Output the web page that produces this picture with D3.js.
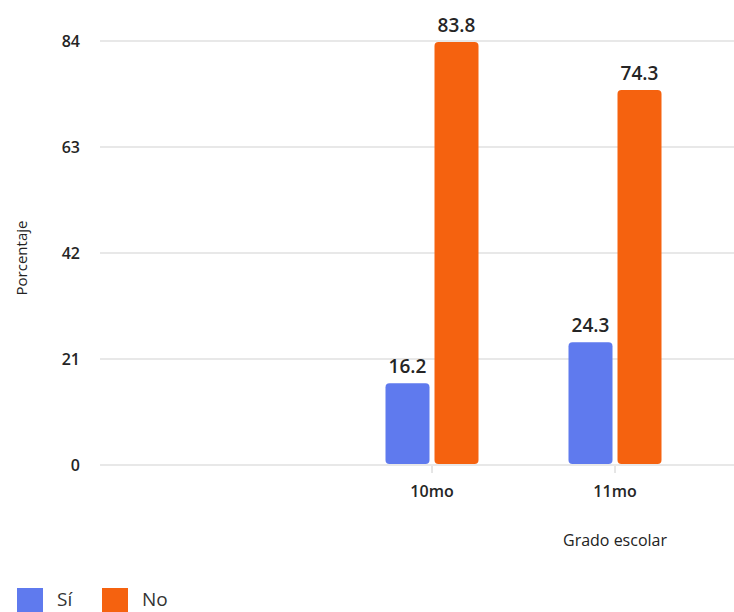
<!DOCTYPE html>
<html>
<head>
<meta charset="utf-8">
<script src="https://cdn.jsdelivr.net/npm/d3@7"></script>
<style>
  html, body { margin: 0; padding: 0; background: #fff; }
  svg { display: block; font-family: "Open Sans", "Noto Sans", sans-serif; }
</style>
</head>
<body>
<svg id="chart" width="734" height="612"></svg>
<script>
const categories = ["10mo", "11mo"];
const seriesNames = ["Sí", "No"];
const siValues = [16.2, 24.3];
const noValues = [83.8, 74.3];
const yTicks = [0, 21, 42, 63, 84];
const colors = ["#5F7AEE", "#F5620F"];
const xTitle = "Grado escolar";
const yTitle = "Porcentaje";

const svg = d3.select("#chart");
const y = d3.scaleLinear().domain([0, 84]).range([465, 41]);
const x = d3.scaleBand().domain(categories).range([340.5, 706.5]);
const xs = d3.scaleBand().domain(seriesNames).range([-46.5, 46.5]).paddingInner(0.102);
const color = d3.scaleOrdinal().domain(seriesNames).range(colors);

// gridlines
svg.append("g").selectAll("line").data(yTicks).join("line")
  .attr("x1", 100).attr("x2", 734)
  .attr("y1", d => y(d)).attr("y2", d => y(d))
  .attr("stroke", "#e0e0e0").attr("stroke-width", 1.5);

// y tick labels
svg.append("g").selectAll("text").data(yTicks).join("text")
  .attr("x", 80).attr("y", d => y(d)).attr("dy", "0.35em")
  .attr("text-anchor", "end").attr("font-size", 16).attr("fill", "#252525")
  .attr("font-weight", 600)
  .text(d => d);

// y title
svg.append("text")
  .attr("transform", "translate(27,258) rotate(-90)")
  .attr("text-anchor", "middle").attr("font-size", 15).attr("fill", "#222")
  .text(yTitle);

// x ticks
const xc = d => x(d) + x.bandwidth() / 2;
svg.append("g").selectAll("line").data(categories).join("line")
  .attr("x1", xc).attr("x2", xc).attr("y1", 466).attr("y2", 473)
  .attr("stroke", "#cccccc").attr("stroke-width", 1);
svg.append("g").selectAll("text").data(categories).join("text")
  .attr("x", xc).attr("y", 497)
  .attr("text-anchor", "middle").attr("font-size", 16).attr("fill", "#252525")
  .attr("font-weight", 600)
  .text(d => d);

svg.append("text")
  .attr("x", 615).attr("y", 546)
  .attr("text-anchor", "middle").attr("font-size", 16).attr("fill", "#222")
  .attr("font-weight", 500)
  .text(xTitle);

// bars
const rows = categories.map((c, i) => ({ cat: c, vals: [
  { s: seriesNames[0], v: siValues[i] },
  { s: seriesNames[1], v: noValues[i] }
]}));

const groups = svg.append("g").selectAll("g").data(rows).join("g")
  .attr("transform", d => `translate(${xc(d.cat)},0)`);

groups.selectAll("rect").data(d => d.vals).join("rect")
  .attr("x", d => xs(d.s)).attr("width", xs.bandwidth())
  .attr("y", d => y(d.v)).attr("height", d => y(0) - 1 - y(d.v))
  .attr("rx", 4).attr("ry", 4)
  .attr("fill", d => color(d.s));

groups.selectAll("text").data(d => d.vals).join("text")
  .attr("x", d => xs(d.s) + xs.bandwidth() / 2)
  .attr("y", d => y(d.v) - 10)
  .attr("text-anchor", "middle").attr("font-size", 19).attr("fill", "#252525")
  .attr("font-weight", 600)
  .text(d => d.v.toFixed(1));

// legend
const legend = svg.append("g").selectAll("g").data(seriesNames).join("g")
  .attr("transform", (d, i) => `translate(${17 + i * 85},588)`);
legend.append("rect").attr("width", 26).attr("height", 24)
  .attr("fill", d => color(d));
legend.append("text").attr("x", 40).attr("y", 18)
  .attr("font-size", 19).attr("fill", "#333")
  .text(d => d);
</script>
</body>
</html>
